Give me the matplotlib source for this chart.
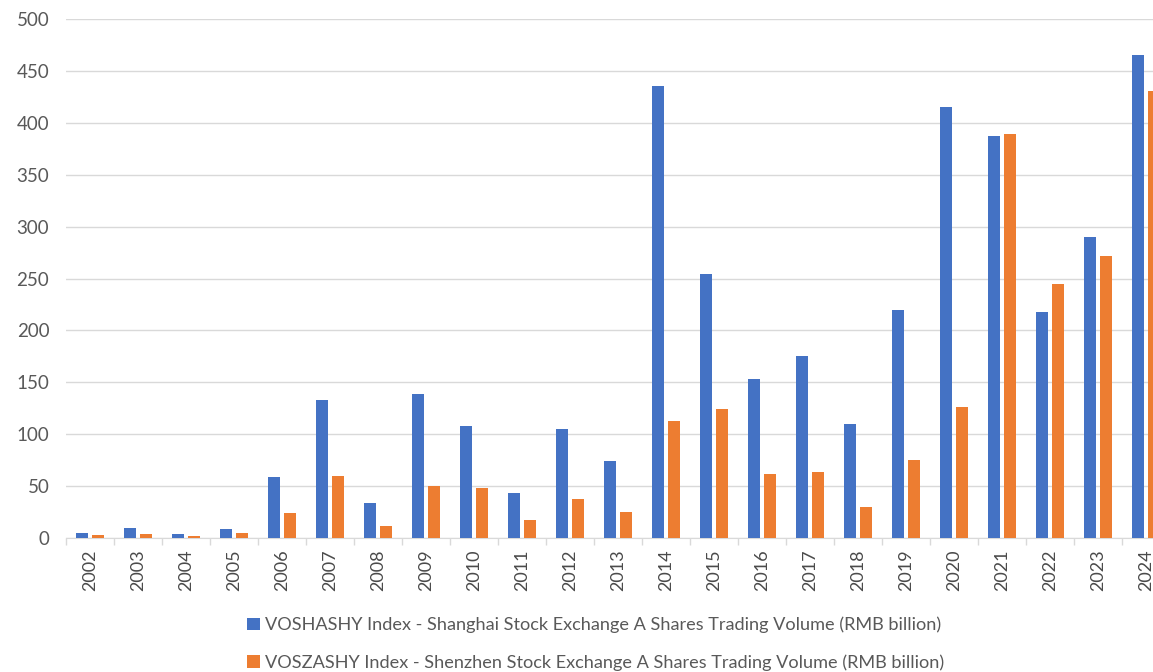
import numpy as np
import matplotlib.pyplot as plt

years = [str(y) for y in range(2002, 2025)]
shanghai = [5, 10, 4, 9, 59, 133, 34, 139, 108, 43, 105, 74, 435, 254, 153, 175,
            110, 220, 415, 387, 218, 290, 465]
shenzhen = [3, 4, 2, 5, 24, 60, 12, 50, 48, 17, 38, 25, 113, 124, 62, 64,
            30, 75, 126, 389, 245, 272, 431]
label_sh = 'VOSHASHY Index - Shanghai Stock Exchange A Shares Trading Volume (RMB billion)'
label_sz = 'VOSZASHY Index - Shenzhen Stock Exchange A Shares Trading Volume (RMB billion)'

plt.rcParams['font.family'] = ['Lato', 'DejaVu Sans']

fig = plt.figure(figsize=(11.53, 6.72), dpi=100)
ax = fig.add_axes([0.0572, 0.1994, 0.9575, 0.7723])

x = np.arange(len(years))
w = 0.25
ax.bar(x - 0.165, shanghai, w, color='#4472c4', label=label_sh, zorder=3)
ax.bar(x + 0.165, shenzhen, w, color='#ed7d31', label=label_sz, zorder=3)

ax.set_xlim(-0.5, len(years) - 0.5)
ax.set_ylim(0, 500)
ax.set_yticks(np.arange(0, 501, 50))
ax.yaxis.grid(True, color='#d9d9d9', linewidth=1, zorder=0)
ax.tick_params(axis='y', length=0, labelsize=13.5, labelcolor='#595959', pad=12)

ax.set_xticks(x)
ax.set_xticklabels(years, rotation=90, fontsize=13, color='#4a4a4a')
ax.set_xticks(np.arange(-0.5, len(years), 1), minor=True)
ax.tick_params(axis='x', which='major', length=0, pad=8)
ax.tick_params(axis='x', which='minor', length=5, color='#d9d9d9', width=1)

for s in ['top', 'right', 'left']:
    ax.spines[s].set_visible(False)
ax.spines['bottom'].set_color('#d9d9d9')

fig.legend(loc='center', bbox_to_anchor=(0.5165, 0.042), ncol=1, frameon=False,
           fontsize=13.1, labelcolor='#595959', handlelength=0.7, handleheight=0.7,
           handletextpad=0.3, labelspacing=1.15)

fig.savefig('out.png', dpi=100)
